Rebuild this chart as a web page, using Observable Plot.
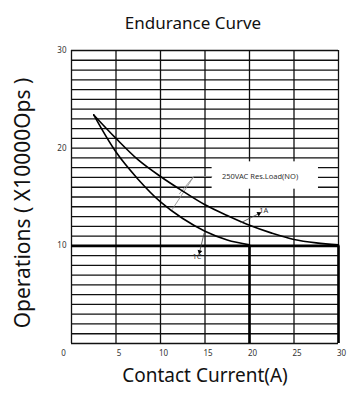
<!DOCTYPE html>
<html><head><meta charset="utf-8">
<script src="https://cdn.jsdelivr.net/npm/d3@7"></script>
<script src="https://cdn.jsdelivr.net/npm/@observablehq/plot@0.6"></script>
<style>body{margin:0;background:#fff}svg{display:block}</style>
</head><body><div id="chart"></div>
<script>
const title = "Endurance Curve";
const xLabel = "Contact Current(A)";
const yLabel = "Operations ( X10000Ops )";
const current1A = [2.5, 5, 7.5, 10, 12.5, 15, 17.5, 20, 22.5, 25, 27.5, 30];
const ops1A = [23.4, 21.0, 18.8, 17.1, 15.6, 14.2, 13.1, 12.1, 11.3, 10.65, 10.3, 10.1];
const current1C = [2.5, 5, 7.5, 10, 12.5, 15, 17.5, 20];
const ops1C = [23.4, 19.6, 16.8, 14.5, 12.8, 11.5, 10.6, 10.1];
const xTicks = [5, 10, 15, 20, 25, 30];
const yTicks = [10, 20, 30];
const xGrid = [0, 5, 10, 15, 20, 25, 30];
const yGrid = [0,1,2,3,4,5,6,7,8,9,10,11,12,13,14,15,16,17,18,19,20,21,22,23,24,25,26,27,28,29,30];
const loadNote = {text: "250VAC Res.Load(NO)", x: 16.9, y: 17.1, box: [15.8, 27.75, 15.8, 18.6]};
const leaders = [
  {x1: 15.8, y1: 17.1, x2: 13.74, y2: 17.1},
  {x1: 13.74, y1: 17.1, x2: 12.1, y2: 15.3},
  {x1: 13.74, y1: 17.1, x2: 11.3, y2: 13.7}
];
const arrows = [
  {label: "1A", x1: 19.0, y1: 12.35, x2: 21.05, y2: 13.3, tx: 21.6, ty: 13.6, anchor: "start"},
  {label: "1C", x1: 14.9, y1: 11.3, x2: 14.4, y2: 9.4, tx: 14.1, ty: 8.85, anchor: "end"}
];

const rowsA = current1A.map((c, i) => ({c, v: ops1A[i]}));
const rowsC = current1C.map((c, i) => ({c, v: ops1C[i]}));
const font = "Noto Sans, Open Sans, sans-serif";

const xs = d3.scaleLinear().domain([0,30]).range([71,338]);
const ys = d3.scaleLinear().domain([0,30]).range([343,50]);
function ang(a) {
  const dx = xs(a.x2) - xs(a.x1), dy = ys(a.y2) - ys(a.y1);
  return Math.atan2(dy, dx) * 180 / Math.PI + 90;
}

const chart = Plot.plot({
  width: 351,
  height: 396,
  marginLeft: 71,
  marginRight: 13,
  marginTop: 50,
  marginBottom: 53,
  style: {fontFamily: font, background: "#fff"},
  x: {domain: [0, 30], label: null},
  y: {domain: [0, 30], label: null},
  marks: [
    Plot.ruleY(yGrid, {y: d => d, x1: 0, x2: 30, stroke: "#111", strokeWidth: 1.3}),
    Plot.ruleX(xGrid, {x: d => d, y1: 0, y2: 30, stroke: "#111", strokeWidth: 1.3}),
    Plot.ruleY([10], {x1: 0, x2: 30, stroke: "#000", strokeWidth: 2.6}),
    Plot.ruleX([20, 30], {y1: 0, y2: 10, stroke: "#000", strokeWidth: 2.6}),
    Plot.rect([loadNote], {x1: d => d.box[0], x2: d => d.box[1], y1: d => d.box[2], y2: d => d.box[3], fill: "#fff"}),
    Plot.link(leaders, {x1: "x1", y1: "y1", x2: "x2", y2: "y2", stroke: "#888", strokeWidth: 0.8}),
    Plot.line(rowsA, {x: "c", y: "v", curve: "catmull-rom", stroke: "#000", strokeWidth: 1.6}),
    Plot.line(rowsC, {x: "c", y: "v", curve: "catmull-rom", stroke: "#000", strokeWidth: 1.6}),
    Plot.link(arrows, {x1: "x1", y1: "y1", x2: "x2", y2: "y2", stroke: "#444", strokeWidth: 0.8}),
    Plot.dot(arrows, {x: "x2", y: "y2", symbol: "triangle2", r: 2.3, fill: "#000", rotate: d => ang(d)}),
    Plot.text(arrows, {x: "tx", y: "ty", text: "label", textAnchor: d => d.anchor, fontSize: 7.5, fill: "#333"}),
    Plot.text([loadNote], {x: "x", y: "y", text: "text", textAnchor: "start", fontSize: 7.5, fill: "#333"}),
    Plot.axisX({ticks: xTicks, tickSize: 0, tickPadding: 7, dx: 3, fontSize: 8, fill: "#333", label: null}),
    Plot.axisY({ticks: yTicks, tickSize: 0, tickPadding: 5, fontSize: 8, fill: "#333", label: null}),
    Plot.text(["0"], {x: 0, y: 0, dx: -8, dy: 10, fontSize: 8, fill: "#333"}),
    Plot.text([title], {frameAnchor: "top", dx: -12, dy: -34, fontSize: 17, fill: "#111"}),
    Plot.text([xLabel], {frameAnchor: "bottom", dx: 0, dy: 38, fontSize: 19, fill: "#111"}),
    Plot.text([yLabel], {frameAnchor: "left", textAnchor: "middle", dx: -48, dy: 6, rotate: -90, fontSize: 21, fill: "#111"})
  ]
});
document.getElementById("chart").append(chart);
</script>
</body></html>
